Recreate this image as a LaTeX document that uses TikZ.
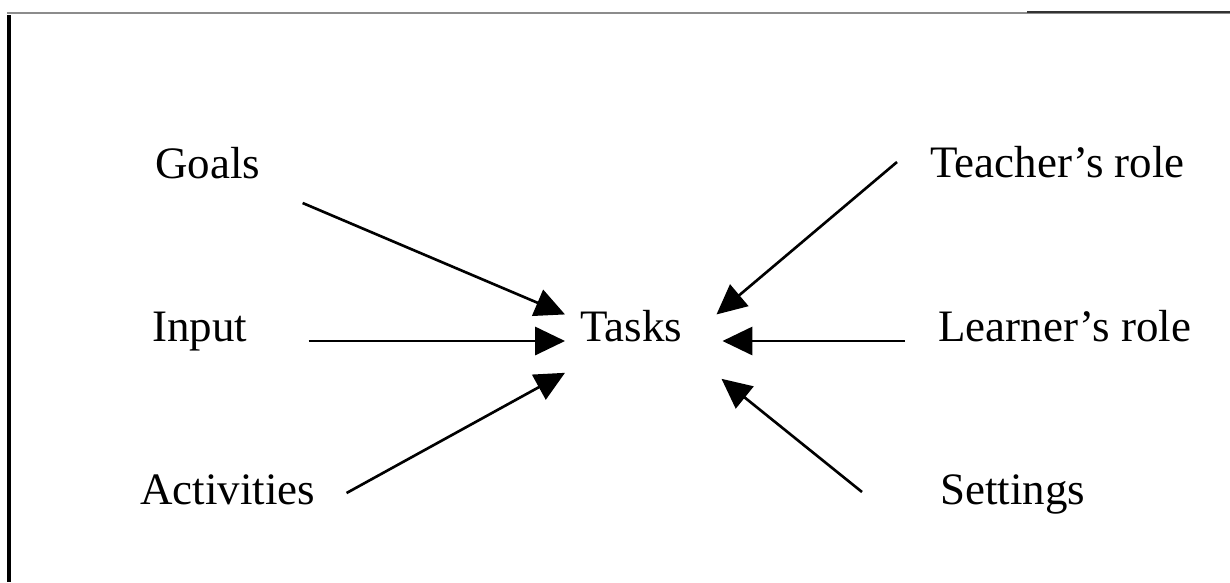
\documentclass[tikz,border=0pt]{standalone}
\usepackage{fontspec}
\setmainfont{Liberation Serif}
\usetikzlibrary{arrows.meta}

\begin{document}
\begin{tikzpicture}[x=0.02cm, y=-0.02cm,
  lbl/.style={inner sep=0pt, font=\fontsize{25.6}{30}\selectfont},
  feed/.style={line width=1.5pt, -{Triangle[length=17pt, width=16pt]}}]
  \useasboundingbox (0,0) rectangle (1230,582);
  % Frame
  \draw[black!45, line width=1.2pt] (7,13) -- (1230,13);
  \draw[black!80, line width=1.2pt] (1027,12) -- (1230,12);
  \draw[line width=1.8pt] (9,15) -- (9,582);
  % Labels
  \node[lbl, anchor=base west] (goals) at (155,178) {Goals};
  \node[lbl, anchor=base west] (input) at (152,341) {Input};
  \node[lbl, anchor=base west] (activities) at (140,504) {Activities};
  \node[lbl, anchor=base west] (tasks) at (580,341) {Tasks};
  \node[lbl, anchor=base west] (teacher) at (930,177) {Teacher’s role};
  \node[lbl, anchor=base west] (learner) at (938,341) {Learner’s role};
  \node[lbl, anchor=base west] (settings) at (940,504) {Settings};
  % Arrows into the tasks
  \draw[feed] ([shift={(42,25)}]goals.base east) -- ([shift={(-15,5)}]tasks.north west);
  \draw[feed] ([shift={(61,0)}]input.base east) -- ([shift={(-15,0)}]tasks.base west);
  \draw[feed] ([shift={(31,-11)}]activities.base east) -- ([shift={(-15,31)}]tasks.south west);
  \draw[feed] ([shift={(-33,-15)}]teacher.base west) -- ([shift={(34,5)}]tasks.north east);
  \draw[feed] ([shift={(-33,0)}]learner.base west) -- ([shift={(40,0)}]tasks.base east);
  \draw[feed] ([shift={(-78,-12)}]settings.base west) -- ([shift={(39,37)}]tasks.south east);
\end{tikzpicture}
\end{document}
